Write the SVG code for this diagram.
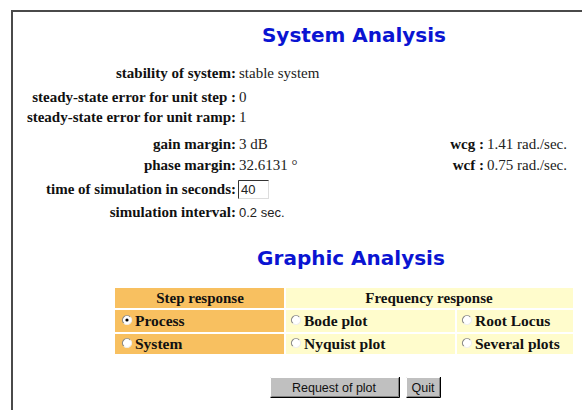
<svg xmlns="http://www.w3.org/2000/svg" width="582" height="410" viewBox="0 0 582 410">
<style>
.ttl{font-family:"DejaVu Sans",Verdana,sans-serif;font-weight:bold;font-size:20px;fill:#0a14d2;text-anchor:middle}
.lb{font-family:"Liberation Serif","Times New Roman",serif;font-weight:bold;font-size:15px;fill:#111;text-anchor:end}
.v{font-family:"Liberation Serif","Times New Roman",serif;font-size:15px;fill:#222}
.vs{font-family:"Liberation Sans",Arial,sans-serif;font-size:13px;fill:#222}
.th{font-family:"Liberation Serif","Times New Roman",serif;font-weight:bold;font-size:15px;fill:#111;text-anchor:middle}
.td{font-family:"Liberation Serif","Times New Roman",serif;font-weight:bold;font-size:15.5px;fill:#111}
.or{fill:#f8c060}
.ye{fill:#fffccc}
.btn{font-family:"Liberation Sans",Arial,sans-serif;font-size:12.5px;fill:#111;text-anchor:middle}
</style>
<defs>
<g id="radio">
<circle cx="0" cy="0" r="4.5" fill="#fff"/>
<path d="M3.2,-3.2 A4.5,4.5 0 0 0 -3.2,3.2" fill="none" stroke="#888" stroke-width="1.2"/>
<path d="M-3.2,3.2 A4.5,4.5 0 0 0 3.2,-3.2" fill="none" stroke="#eee" stroke-width="1.2"/>
</g>
</defs>
<rect width="582" height="410" fill="#fff"/>
<path d="M12,410 V11 H582" fill="none" stroke="#4a4a4a" stroke-width="2"/>

<g id="title-system"><text class="ttl" x="354" y="42">System Analysis</text></g>

<g id="stability"><text class="lb" x="236" y="78">stability of system:</text><text class="v" x="239" y="78">stable system</text></g>
<g id="err-step"><text class="lb" x="236" y="102">steady-state error for unit step :</text><text class="v" x="239" y="102">0</text></g>
<g id="err-ramp"><text class="lb" x="236" y="122">steady-state error for unit ramp:</text><text class="v" x="239" y="122">1</text></g>
<g id="gain"><text class="lb" x="236" y="149">gain margin:</text><text class="v" x="239" y="149">3 dB</text></g>
<g id="wcg"><text class="lb" x="484" y="149">wcg :</text><text class="v" x="487" y="149">1.41 rad./sec.</text></g>
<g id="phase"><text class="lb" x="236" y="170">phase margin:</text><text class="v" x="239" y="170">32.6131 °</text></g>
<g id="wcf"><text class="lb" x="484" y="170">wcf :</text><text class="v" x="487" y="170">0.75 rad./sec.</text></g>
<g id="simtime"><text class="lb" x="236" y="194">time of simulation in seconds:</text>
<rect x="238.5" y="180.5" width="30" height="18" fill="#fff" stroke="#ddd"/>
<path d="M238.5,198.5 V180.5 H268.5" fill="none" stroke="#333" stroke-width="1"/>
<text class="vs" x="241" y="194">40</text></g>
<g id="siminterval"><text class="lb" x="236" y="217">simulation interval:</text><text class="vs" x="239" y="217">0.2 sec.</text></g>

<g id="title-graphic"><text class="ttl" x="351" y="265">Graphic Analysis</text></g>

<g id="table">
<rect class="or" x="115" y="288" width="169" height="20"/>
<rect class="ye" x="286" y="288" width="287" height="20"/>
<rect class="or" x="115" y="310" width="169" height="22"/>
<rect class="ye" x="286" y="310" width="169" height="22"/>
<rect class="ye" x="457" y="310" width="116" height="22"/>
<rect class="or" x="115" y="334" width="169" height="20"/>
<rect class="ye" x="286" y="334" width="169" height="20"/>
<rect class="ye" x="457" y="334" width="116" height="20"/>
<text class="th" x="200" y="303">Step response</text>
<text class="th" x="429" y="303">Frequency response</text>
<use href="#radio" x="127" y="320"/><circle cx="127" cy="320" r="1.6" fill="#000"/>
<text class="td" x="135" y="326">Process</text>
<use href="#radio" x="127" y="343"/>
<text class="td" x="135" y="349">System</text>
<use href="#radio" x="296" y="320"/>
<text class="td" x="304" y="326">Bode plot</text>
<use href="#radio" x="296" y="343"/>
<text class="td" x="304" y="349">Nyquist plot</text>
<use href="#radio" x="467" y="320"/>
<text class="td" x="475" y="326">Root Locus</text>
<use href="#radio" x="467" y="343"/>
<text class="td" x="475" y="349">Several plots</text>
</g>

<g id="btn-request">
<rect x="270" y="377" width="129" height="20" fill="#c0c0c0"/>
<path d="M270.5,396.5 V377.5 H398.5" fill="none" stroke="#fff"/>
<path d="M270.5,397.5 H399.5 V377" fill="none" stroke="#000"/>
<path d="M271.5,396.5 H398.5 V378" fill="none" stroke="#808080"/>
<text class="btn" x="334" y="392">Request of plot</text>
</g>
<g id="btn-quit">
<rect x="406" y="377" width="34" height="20" fill="#c0c0c0"/>
<path d="M406.5,396.5 V377.5 H439.5" fill="none" stroke="#fff"/>
<path d="M406.5,397.5 H440.5 V377" fill="none" stroke="#000"/>
<path d="M407.5,396.5 H439.5 V378" fill="none" stroke="#808080"/>
<text class="btn" x="423" y="392">Quit</text>
</g>
</svg>
